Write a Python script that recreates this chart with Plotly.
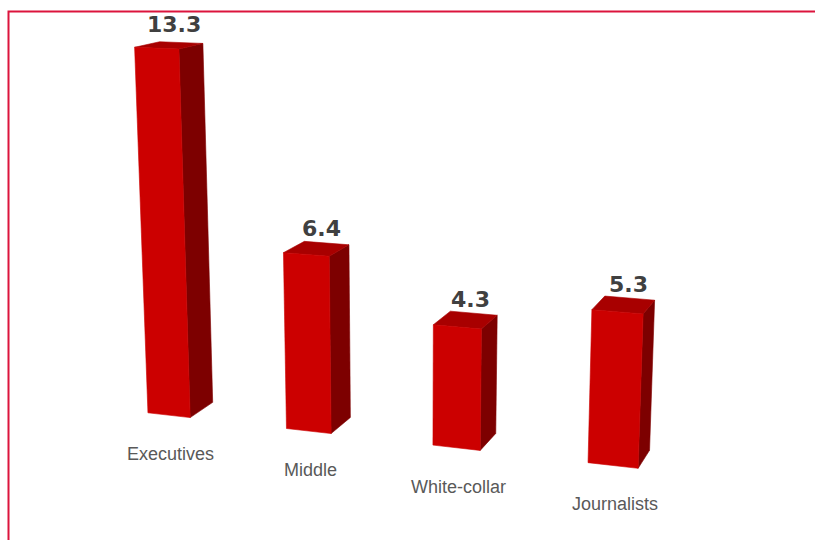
import numpy as np
import plotly.graph_objects as go

# Chart data
categories = ["Executives", "Middle", "White-collar", "Journalists"]
values = [13.3, 6.4, 4.3, 5.3]

# Canvas
FIG_W, FIG_H = 815, 540

# Perspective camera (pinhole) used to render the 3D columns onto the page
FOCAL = 1755.0
CX, CY = 409.0, 270.0
PITCH = np.radians(13.5)   # looking down
YAW = np.radians(19.0)     # turned toward the left end of the row
EYE = np.array([28.86, -54.58, 20.0])

# Column geometry in world units
SPACING = 5.47
BAR_W = 1.7
BAR_D = 1.9
HEIGHT_SCALE = 1.0   # world units per value unit

FRONT_COLOR = "#cc0000"
TOP_COLOR = "#a80000"
SIDE_COLOR = "#7d0000"
BORDER_COLOR = "#dc143c"


def project(points):
    sp, cp = np.sin(PITCH), np.cos(PITCH)
    sy, cy = np.sin(YAW), np.cos(YAW)
    fwd = np.array([-sy * cp, cy * cp, -sp])
    right = np.array([cy, sy, 0.0])
    up = np.array([-sy * sp, cy * sp, cp])
    d = np.asarray(points, dtype=float) - EYE
    xc, yc, zc = d @ right, d @ up, d @ fwd
    return CX + FOCAL * xc / zc, CY - FOCAL * yc / zc


def face_trace(corners, color):
    u, v = project(corners)
    u = np.append(u, u[0])
    v = np.append(v, v[0])
    return go.Scatter(
        x=u, y=v, mode="lines", fill="toself", fillcolor=color,
        line=dict(color=color, width=0.6), hoverinfo="skip", showlegend=False,
    )


fig = go.Figure()
annotations = []

for i, (name, val) in enumerate(zip(categories, values)):
    x0 = i * SPACING
    x1 = x0 + BAR_W
    d = BAR_D
    z = val * HEIGHT_SCALE
    side = [(x1, 0, 0), (x1, d, 0), (x1, d, z), (x1, 0, z)]
    top = [(x0, 0, z), (x1, 0, z), (x1, d, z), (x0, d, z)]
    front = [(x0, 0, 0), (x1, 0, 0), (x1, 0, z), (x0, 0, z)]
    fig.add_trace(face_trace(side, SIDE_COLOR))
    fig.add_trace(face_trace(top, TOP_COLOR))
    fig.add_trace(face_trace(front, FRONT_COLOR))

    # value label above the column
    tu, tv = project([(x0 + BAR_W / 2, d / 2, z)])
    annotations.append(dict(
        x=float(tu[0]) + 5, y=float(tv[0]), xref="x", yref="y",
        text=f"{val:.1f}", showarrow=False, xanchor="center", yanchor="bottom",
        yshift=6,
        font=dict(family="DejaVu Sans", size=22, color="#404040", weight="bold"),
    ))

    # category label under the column
    bu, bv = project([(x0 + BAR_W / 2, 0, 0)])
    annotations.append(dict(
        x=float(bu[0]) + 2, y=float(bv[0]), xref="x", yref="y",
        text=name, showarrow=False, xanchor="center", yanchor="middle",
        yshift=-39,
        font=dict(family="Liberation Sans, Arial, sans-serif", size=18,
                  color="#595959"),
    ))

# red frame running off the right and bottom edges
frame = dict(
    type="rect", xref="paper", yref="paper",
    x0=8.5 / FIG_W, x1=1.05, y0=-0.05, y1=1 - 11.5 / FIG_H,
    line=dict(color=BORDER_COLOR, width=2), fillcolor="rgba(0,0,0,0)",
    layer="above",
)

fig.update_layout(
    width=FIG_W, height=FIG_H,
    margin=dict(l=0, r=0, t=0, b=0),
    paper_bgcolor="white", plot_bgcolor="white",
    xaxis=dict(range=[0, FIG_W], visible=False, fixedrange=True),
    yaxis=dict(range=[FIG_H, 0], visible=False, fixedrange=True),
    annotations=annotations,
    shapes=[frame],
    showlegend=False,
)

fig.write_html("out.html")
